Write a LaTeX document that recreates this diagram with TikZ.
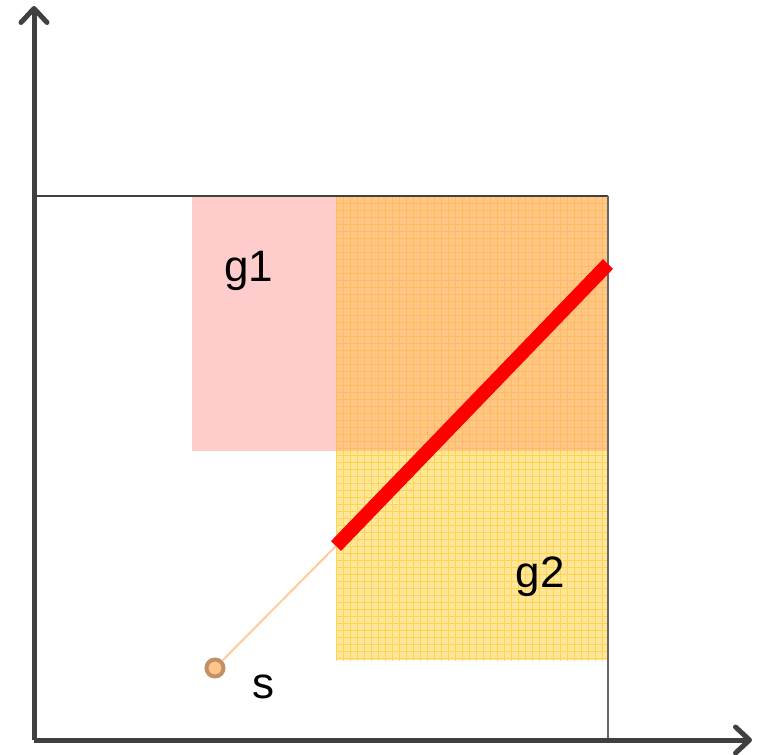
\documentclass[tikz,border=0pt]{standalone}
\usepackage{fontspec}
\setmainfont{Liberation Sans}
\usetikzlibrary{arrows.meta}
\definecolor{axisgray}{HTML}{404040}
\definecolor{gone}{HTML}{FFCCCC}
\definecolor{gtwo}{HTML}{FFE699}
\definecolor{gridc}{HTML}{FFCF3A}
\definecolor{overl}{HTML}{FFA070}
\definecolor{thinl}{HTML}{FFCC99}
\definecolor{sdraw}{HTML}{C09066}
\definecolor{sfill}{HTML}{FFC58A}
\tikzset{
  axis/.style={line width=5pt, draw=axisgray, -{Straight Barb[length=14pt,width=26pt,line width=5pt,line cap=round,line join=round]}},
  frame/.style={line width=2pt, draw=axisgray},
  lbl/.style={font=\fontsize{44}{44}\selectfont, text=black, inner sep=0pt},
}
\begin{document}
\begin{tikzpicture}[x=1pt,y=-1pt]
\useasboundingbox (0,0) rectangle (762,754);
% regions
\fill[gtwo] (336,196) rectangle (608,660);
\begin{scope}
\clip (336,196) rectangle (608,660);
\draw[gridc, line width=0.8pt, opacity=0.75] (336,196) grid[step=7pt] (610,662);
\end{scope}
\fill[gone] (192,196) rectangle (336,451);
\fill[overl, opacity=0.45] (336,196) rectangle (608,451);
% frame
\draw[frame] (34,196) -- (608,196);
\draw[frame, draw=axisgray!80] (608,196) -- (608,740);
% axes
\coordinate (o) at (34,740);
\coordinate (ytop) at (34,6);
\coordinate (xend) at (752,740);
\draw[axis] (o) -- (ytop);
\draw[axis] (o) -- (xend);
% segments
\node[circle, minimum size=17pt, inner sep=0pt, fill=sfill, draw=sdraw, line width=4pt] (s) at (215,668) {};
\coordinate (a) at (336,546);
\coordinate (b) at (608,264);
\draw[thinl, line width=2pt] (s) -- (a);
\draw[red, line width=14pt] (a) -- (b);
% labels
\node[lbl] (g1) at (249,271) {g1};
\node[lbl] (g2) at (540,577) {g2};
\node[lbl] (sl) at (263,687) {s};
\end{tikzpicture}
\end{document}
